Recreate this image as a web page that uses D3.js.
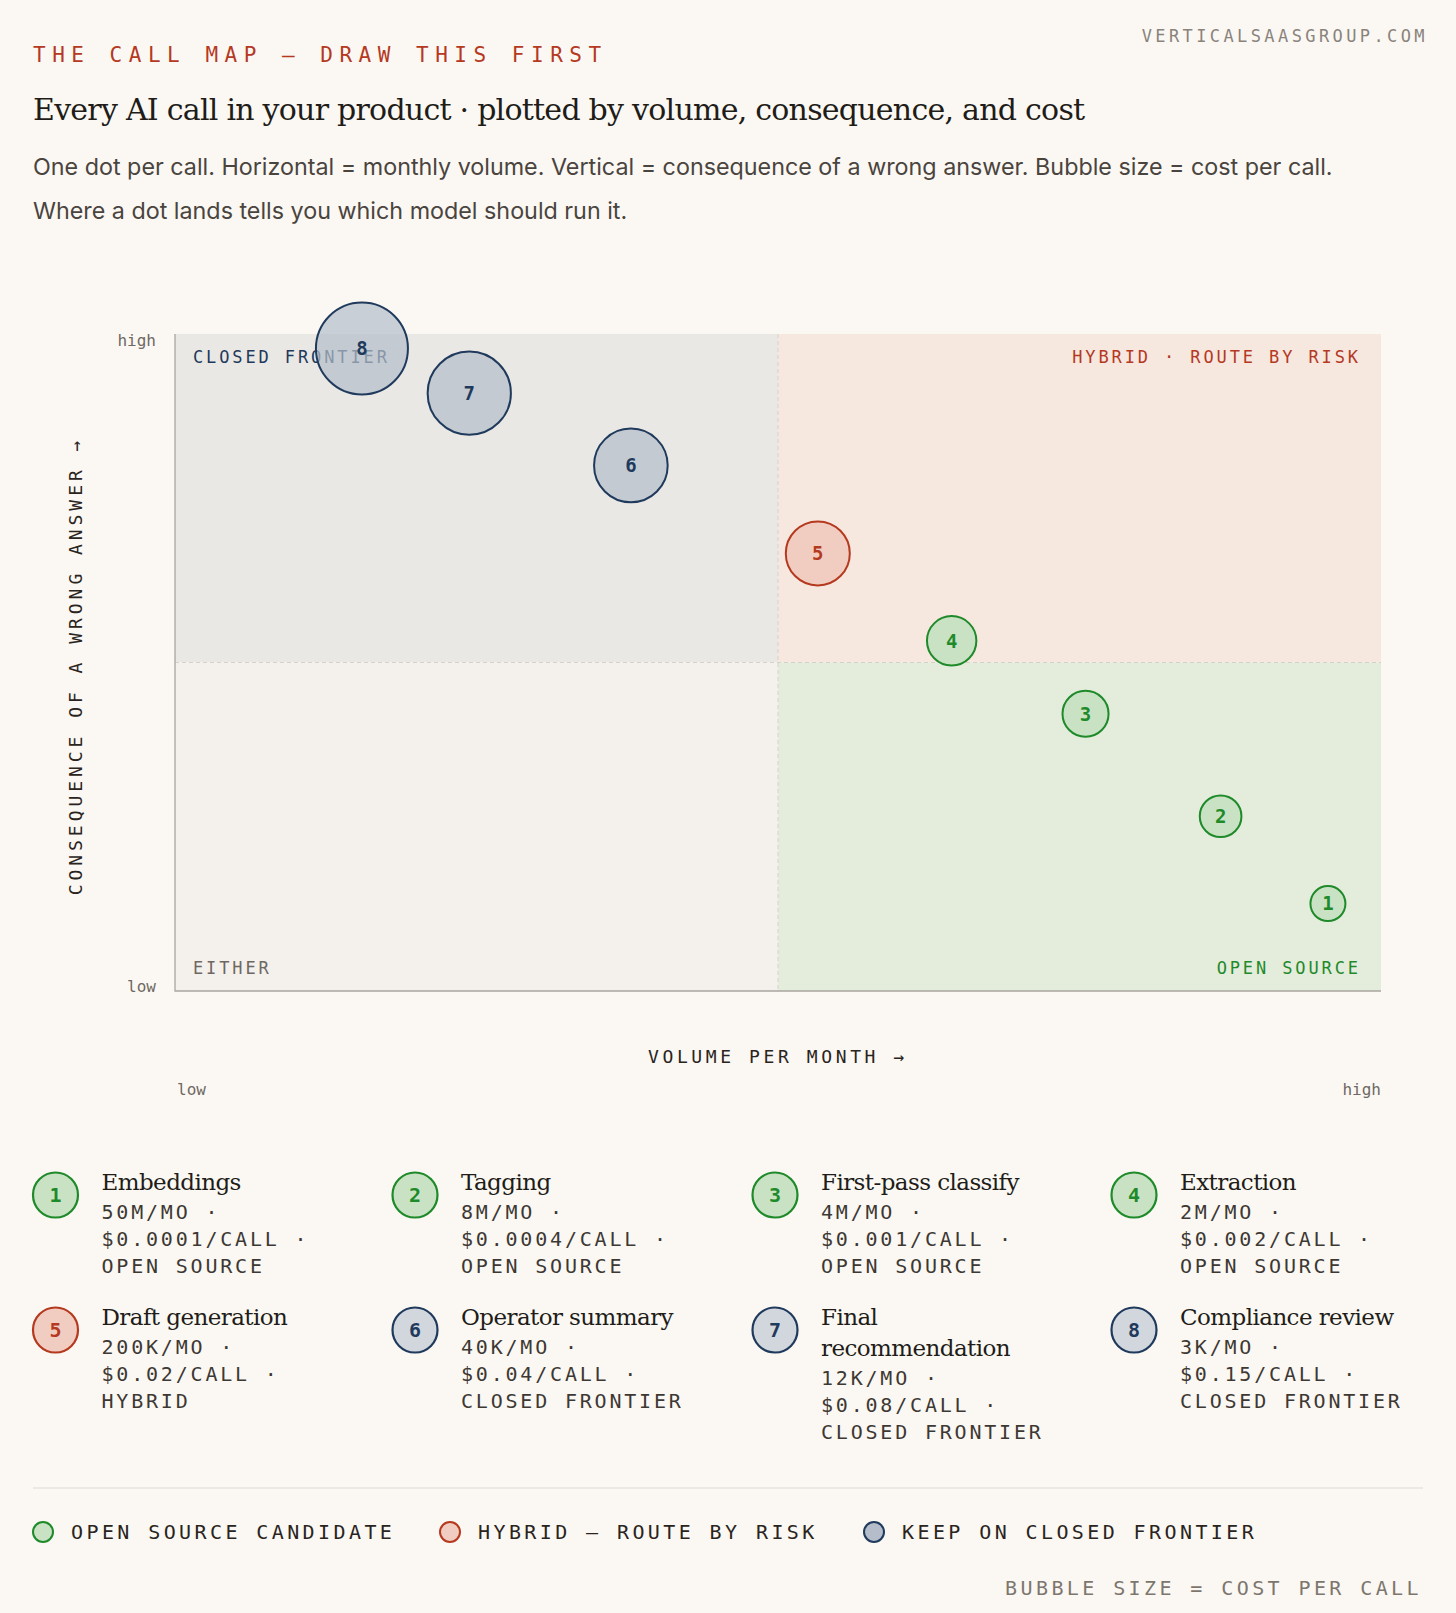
<!DOCTYPE html><html><head><meta charset="utf-8">
<script src="https://cdn.jsdelivr.net/npm/d3@7"></script>
<style>body{margin:0;background:#fbf8f3}svg{display:block}</style></head><body>
<script>
const ids=[1,2,3,4,5,6,7,8];
const names=["Embeddings","Tagging","First-pass classify","Extraction","Draft generation","Operator summary","Final recommendation","Compliance review"];
const volumes=["50M/MO","8M/MO","4M/MO","2M/MO","200K/MO","40K/MO","12K/MO","3K/MO"];
const costLabels=["$0.0001/CALL","$0.0004/CALL","$0.001/CALL","$0.002/CALL","$0.02/CALL","$0.04/CALL","$0.08/CALL","$0.15/CALL"];
const costs=[0.0001,0.0004,0.001,0.002,0.02,0.04,0.08,0.15];
const xVolume=[0.956,0.867,0.755,0.644,0.533,0.378,0.244,0.155];
const yConsequence=[0.133,0.266,0.422,0.533,0.666,0.80,0.91,0.978];
const groups=["open","open","open","open","hybrid","closed","closed","closed"];
const groupLabels={open:"OPEN SOURCE",hybrid:"HYBRID",closed:"CLOSED FRONTIER"};
const legendItems=[["open","OPEN SOURCE CANDIDATE"],["hybrid","HYBRID — ROUTE BY RISK"],["closed","KEEP ON CLOSED FRONTIER"]];

const col={open:{s:"#1e8a2a",f:"#c9e2c3"},hybrid:{s:"#b5391f",f:"#f1cdc1"},closed:{s:"#1f3a5c",f:"rgba(180,189,201,0.7)"}};
const W=1456,H=1613,mono="'DejaVu Sans Mono',monospace",serif="'DejaVu Serif',serif",sans="Inter,'Open Sans',sans-serif";
const svg=d3.select("body").append("svg").attr("width",W).attr("height",H);
svg.append("rect").attr("width",W).attr("height",H).attr("fill","#fbf8f3");
const T=(x,y,t,o={})=>svg.append("text").attr("x",x).attr("y",y).text(t).attr("font-family",o.ff||mono).attr("font-size",o.fs||18).attr("fill",o.c||"#2a2420").attr("letter-spacing",o.ls||0).attr("text-anchor",o.a||"start");
T(1428,42,"VERTICALSAASGROUP.COM",{fs:17,c:"#8a837c",ls:"0.2em",a:"end"});
T(33,62,"THE CALL MAP — DRAW THIS FIRST",{fs:21,c:"#b5391f",ls:"0.31em"});
T(33,120,"Every AI call in your product · plotted by volume, consequence, and cost",{ff:serif,fs:30,c:"#211c18",ls:"-0.025em"});
T(33,175,"One dot per call. Horizontal = monthly volume. Vertical = consequence of a wrong answer. Bubble size = cost per call.",{ff:sans,fs:23.3,c:"#4a443e"});
T(33,219,"Where a dot lands tells you which model should run it.",{ff:sans,fs:23.3,c:"#4a443e"});

const L=175,R=1381,Tp=334,B=991;
const x=d3.scaleLinear().domain([0,1]).range([L,R]);
const y=d3.scaleLinear().domain([0,1]).range([B,Tp]);
const r=d3.scaleLog().domain([0.0001,0.002,0.02,0.15]).range([17.5,24.7,32,46]);
const quads=[[0,.5,.5,1,"#eae8e5"],[.5,1,.5,1,"#f6e7df"],[0,.5,0,.5,"#f4f1ec"],[.5,1,0,.5,"#e4ecdc"]];
quads.forEach(q=>svg.append("rect").attr("x",x(q[0])).attr("y",y(q[3])).attr("width",x(q[1])-x(q[0])).attr("height",y(q[2])-y(q[3])).attr("fill",q[4]));
svg.append("line").attr("x1",x(.5)).attr("x2",x(.5)).attr("y1",Tp).attr("y2",B).attr("stroke","#d6d1ca").attr("stroke-dasharray","4,3");
svg.append("line").attr("x1",L).attr("x2",R).attr("y1",y(.5)).attr("y2",y(.5)).attr("stroke","#d6d1ca").attr("stroke-dasharray","4,3");
svg.append("path").attr("d",`M${L},${Tp}V${B}H${R}`).attr("fill","none").attr("stroke","#a9a49e").attr("stroke-width",1.3);
T(193,363,"CLOSED FRONTIER",{fs:17,c:"#1f3a5c",ls:"0.17em"});
T(1361,363,"HYBRID · ROUTE BY RISK",{fs:17,c:"#b5391f",ls:"0.17em",a:"end"});
T(193,974,"EITHER",{fs:17,c:"#6e6862",ls:"0.17em"});
T(1361,974,"OPEN SOURCE",{fs:17,c:"#1e8a2a",ls:"0.17em",a:"end"});
T(156,346,"high",{fs:16,c:"#6e6862",a:"end"});
T(156,992,"low",{fs:16,c:"#6e6862",a:"end"});
T(177,1095,"low",{fs:16,c:"#6e6862"});
T(1381,1095,"high",{fs:16,c:"#6e6862",a:"end"});
T(778,1063,"VOLUME PER MONTH →",{fs:18,ls:"0.2em",a:"middle"});
svg.append("text").attr("transform","translate(82,666) rotate(-90)").attr("text-anchor","middle").attr("font-family",mono).attr("font-size",18).attr("letter-spacing","0.22em").attr("fill","#2a2420").text("CONSEQUENCE OF A WRONG ANSWER →");

const data=ids.map((id,i)=>({id,name:names[i],vol:volumes[i],cl:costLabels[i],cost:costs[i],x:xVolume[i],y:yConsequence[i],g:groups[i]}));
const bub=svg.append("g").selectAll("g").data(data).join("g").attr("transform",d=>`translate(${x(d.x)},${y(d.y)})`);
bub.append("circle").attr("r",d=>r(d.cost)).attr("fill",d=>col[d.g].f).attr("stroke",d=>col[d.g].s).attr("stroke-width",2);
bub.append("text").attr("text-anchor","middle").attr("dy","0.36em").attr("font-family",mono).attr("font-weight","bold").attr("font-size",19).attr("fill",d=>col[d.g].s).text(d=>d.id);

const cx=[55.5,415,775,1134],ry=[1195,1330];
data.forEach((d,i)=>{
  const X=cx[i%4],Y=ry[Math.floor(i/4)];
  svg.append("circle").attr("cx",X).attr("cy",Y).attr("r",22.5).attr("fill",col[d.g].f.replace("rgba(180,189,201,0.7)","#d2d7de")).attr("stroke",col[d.g].s).attr("stroke-width",2.2);
  T(X,Y+7,d.id,{fs:20,c:col[d.g].s,a:"middle"}).attr("font-weight","bold");
  const lines=d.name==="Final recommendation"?["Final","recommendation"]:[d.name];
  let yy=Y-5;
  lines.forEach(l=>{T(X+46,yy,l,{ff:serif,fs:23,c:"#211c18",ls:"-0.025em"});yy+=31;});
  yy-=2;
  [d.vol+" ·",d.cl+" ·",groupLabels[d.g]].forEach(l=>{T(X+46,yy,l,{fs:20,c:"#3e3833",ls:"0.14em"});yy+=27;});
});
svg.append("line").attr("x1",33).attr("x2",1423).attr("y1",1488).attr("y2",1488).attr("stroke","#ddd8d1");
const lx=[43,450,874];
legendItems.forEach((it,i)=>{
  svg.append("circle").attr("cx",lx[i]).attr("cy",1532).attr("r",10).attr("fill",col[it[0]].f.replace("rgba(180,189,201,0.7)","#b4bdc9")).attr("stroke",col[it[0]].s).attr("stroke-width",2);
  T(lx[i]+28,1539,it[1],{fs:20,c:"#2a2420",ls:"0.17em"});
});
T(1422,1595,"BUBBLE SIZE = COST PER CALL",{fs:20,c:"#7d766f",ls:"0.17em",a:"end"});
</script></body></html>
